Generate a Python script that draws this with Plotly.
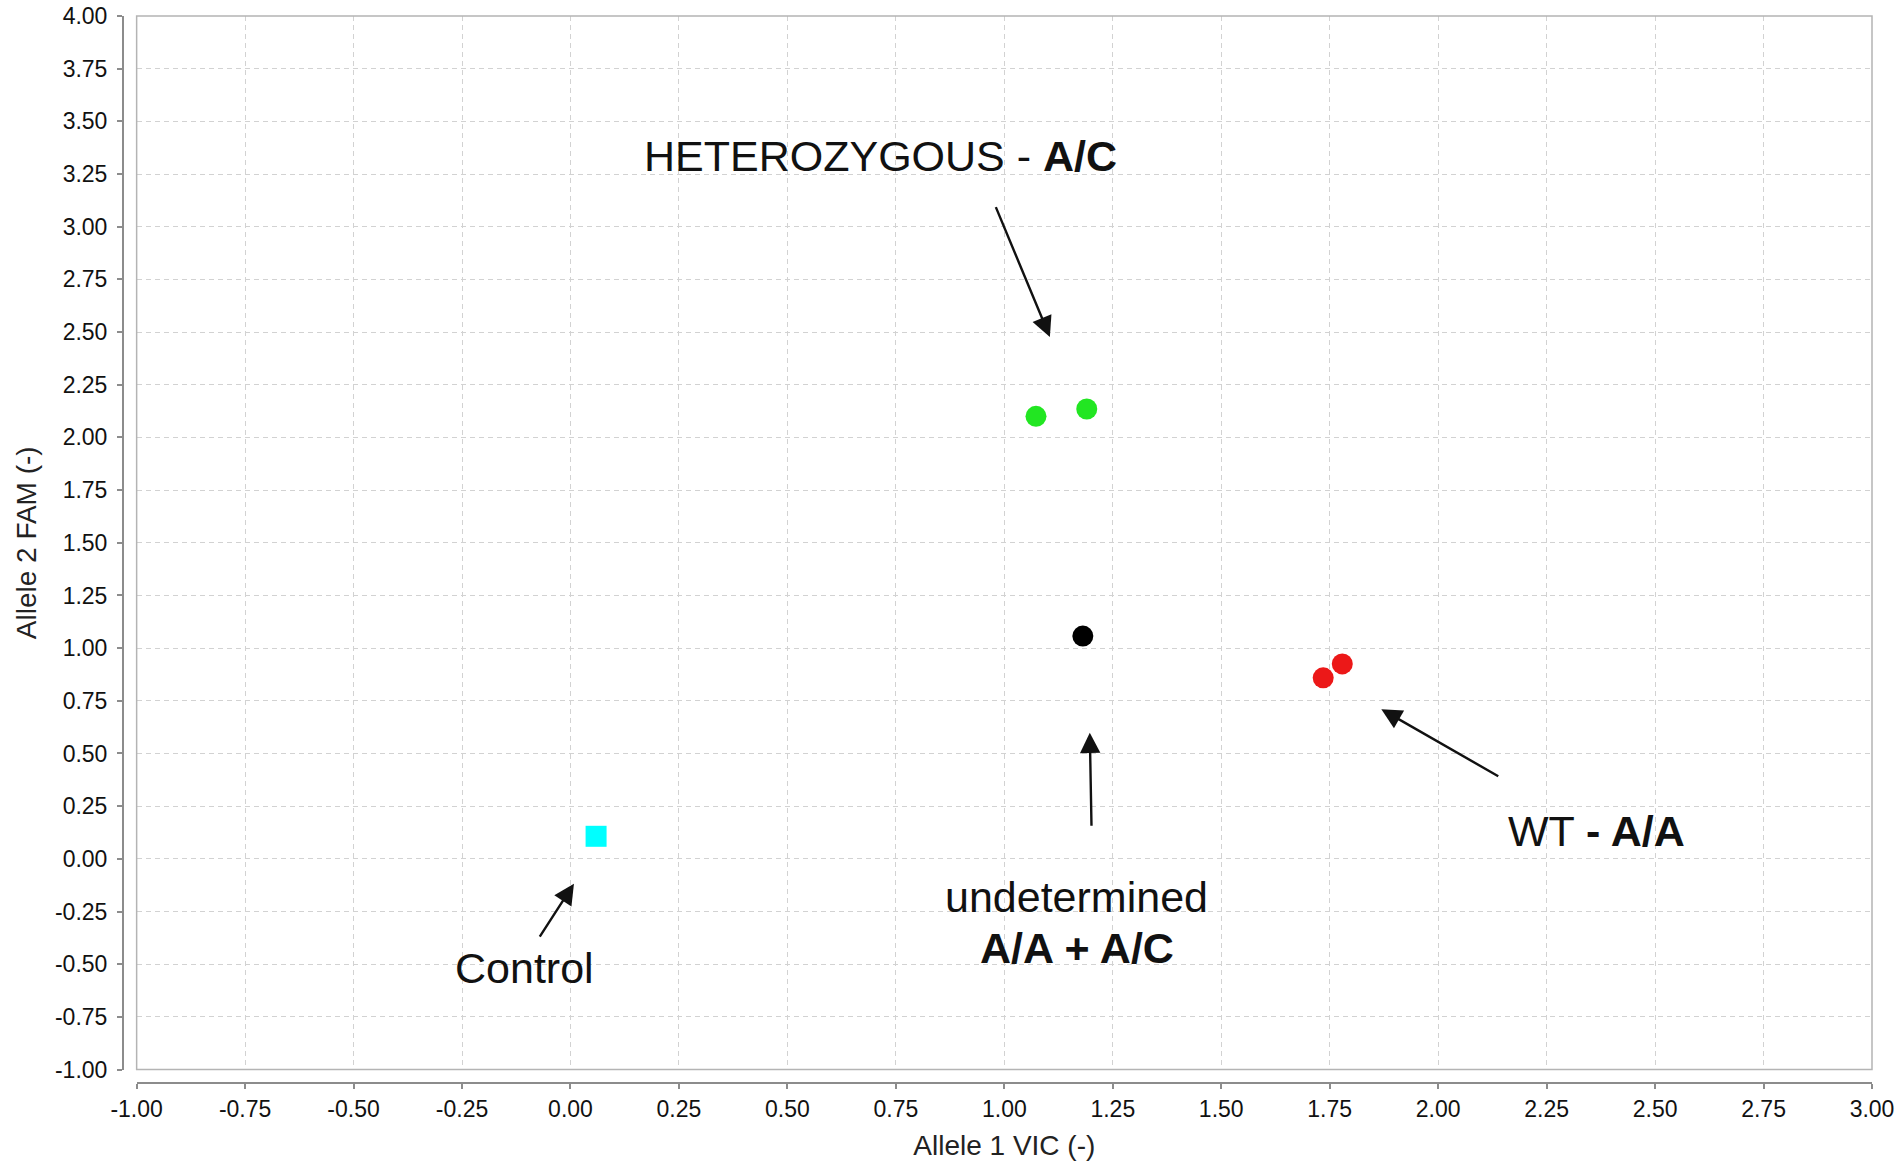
import plotly.graph_objects as go

# ---- data ----
het_x = [1.073, 1.190]
het_y = [2.100, 2.135]
wt_x = [1.735, 1.779]
wt_y = [0.859, 0.925]
und_x = [1.181]
und_y = [1.057]
ctrl_x = [0.059]
ctrl_y = [0.107]

x_ticks = [-1.0 + 0.25 * i for i in range(17)]
y_ticks = [-1.0 + 0.25 * i for i in range(21)]
x_ticktext = [f"{v:.2f}" for v in x_ticks]
y_ticktext = [f"{v:.2f}" for v in y_ticks]

# label text positions and arrows (data coordinates)
labels = [
    dict(text="HETEROZYGOUS - <b>A/C</b>", x=0.714, y=3.335),
    dict(text="undetermined", x=1.167, y=-0.182),
    dict(text="<b>A/A + A/C</b>", x=1.167, y=-0.423),
    dict(text="WT <b>- A/A</b>", x=2.364, y=0.131),
    dict(text="Control", x=-0.107, y=-0.518),
]
arrows = [  # (tail_x, tail_y, head_x, head_y)
    (0.979, 3.100, 1.105, 2.477),
    (1.201, 0.150, 1.197, 0.599),
    (2.142, 0.388, 1.869, 0.710),
    (-0.073, -0.376, 0.008, -0.118),
]

FONT = "Liberation Sans, Arial, sans-serif"

fig = go.Figure()
fig.add_trace(go.Scatter(x=het_x, y=het_y, mode="markers", name="A/C",
                         marker=dict(color="#22e622", size=21, symbol="circle")))
fig.add_trace(go.Scatter(x=wt_x, y=wt_y, mode="markers", name="A/A",
                         marker=dict(color="#ec1818", size=21, symbol="circle")))
fig.add_trace(go.Scatter(x=und_x, y=und_y, mode="markers", name="undetermined",
                         marker=dict(color="#000000", size=21, symbol="circle")))
fig.add_trace(go.Scatter(x=ctrl_x, y=ctrl_y, mode="markers", name="Control",
                         marker=dict(color="#00ffff", size=21, symbol="square")))

for lab in labels:
    fig.add_annotation(text=lab["text"], x=lab["x"], y=lab["y"], xref="x", yref="y",
                       showarrow=False, font=dict(family=FONT, size=43, color="#111111"),
                       xanchor="center", yanchor="middle")

for tx, ty, hx, hy in arrows:
    fig.add_annotation(text="", x=hx, y=hy, ax=tx, ay=ty, xref="x", yref="y",
                       axref="x", ayref="y", showarrow=True, arrowhead=2,
                       arrowsize=1.7, arrowwidth=2.4, arrowcolor="#111111", standoff=0)

# plot frame
fig.add_shape(type="rect", xref="x domain", yref="y domain", x0=0, x1=1, y0=0, y1=1,
              line=dict(color="#b4b4b4", width=1.5), layer="above")

axis_common = dict(
    showgrid=True, gridcolor="#d2d2d2", gridwidth=1, griddash="5px,4px",
    zeroline=False, showline=True, linecolor="#8c8c8c", linewidth=2,
    ticks="outside", ticklen=5, tickwidth=1.5, tickcolor="#8c8c8c",
    tickfont=dict(family=FONT, size=23, color="#111111"),
    automargin=False,
)

fig.update_layout(
    width=1897, height=1162,
    margin=dict(l=123, r=25, t=16, b=79),
    paper_bgcolor="white", plot_bgcolor="white",
    showlegend=False,
    xaxis=dict(axis_common, range=[-1, 3], tickvals=x_ticks, ticktext=x_ticktext,
               domain=[0.0078, 1], anchor="free", position=0,
               ticklabelstandoff=0,
               title=dict(text="Allele 1 VIC (-)", standoff=14,
                          font=dict(family=FONT, size=28, color="#222222"))),
    yaxis=dict(axis_common, range=[-1, 4], tickvals=y_ticks, ticktext=y_ticktext,
               domain=[0.0126, 1], anchor="free", position=0,
               ticklabelstandoff=5,
               title=dict(text="Allele 2 FAM (-)", standoff=9,
                          font=dict(family=FONT, size=28, color="#222222"))),
)

fig.write_html("out.html", config={"displayModeBar": False},
               post_script="document.body.style.margin='0';document.body.style.padding='0';")
